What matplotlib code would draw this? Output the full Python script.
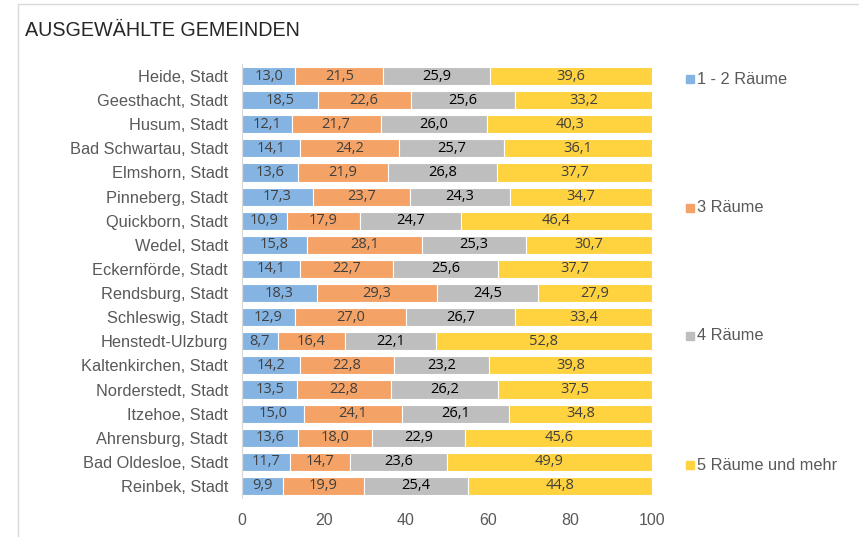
import numpy as np
import matplotlib.pyplot as plt
from matplotlib.patches import Rectangle

gemeinden = ["Heide, Stadt", "Geesthacht, Stadt", "Husum, Stadt", "Bad Schwartau, Stadt",
             "Elmshorn, Stadt", "Pinneberg, Stadt", "Quickborn, Stadt", "Wedel, Stadt",
             "Eckernförde, Stadt", "Rendsburg, Stadt", "Schleswig, Stadt", "Henstedt-Ulzburg",
             "Kaltenkirchen, Stadt", "Norderstedt, Stadt", "Itzehoe, Stadt", "Ahrensburg, Stadt",
             "Bad Oldesloe, Stadt", "Reinbek, Stadt"]
r12 = [13.0, 18.5, 12.1, 14.1, 13.6, 17.3, 10.9, 15.8, 14.1, 18.3, 12.9, 8.7, 14.2, 13.5, 15.0, 13.6, 11.7, 9.9]
r3 = [21.5, 22.6, 21.7, 24.2, 21.9, 23.7, 17.9, 28.1, 22.7, 29.3, 27.0, 16.4, 22.8, 22.8, 24.1, 18.0, 14.7, 19.9]
r4 = [25.9, 25.6, 26.0, 25.7, 26.8, 24.3, 24.7, 25.3, 25.6, 24.5, 26.7, 22.1, 23.2, 26.2, 26.1, 22.9, 23.6, 25.4]
r5 = [39.6, 33.2, 40.3, 36.1, 37.7, 34.7, 46.4, 30.7, 37.7, 27.9, 33.4, 52.8, 39.8, 37.5, 34.8, 45.6, 49.9, 44.8]
serien = ["1 - 2 Räume", "3 Räume", "4 Räume", "5 Räume und mehr"]
farben = ["#85B4E2", "#F4A266", "#BEBEBE", "#FFD23F"]
label_farben = ["#404040", "#404040", "#000000", "#404040"]

fig = plt.figure(figsize=(8.59, 5.37), dpi=100)
fig.patches.append(Rectangle((18 / 859, -0.01), 1.0, 1 - 4 / 537 + 0.01, transform=fig.transFigure,
                             fill=False, edgecolor="#D9D9D9", linewidth=1))
ax = fig.add_axes([242 / 859, 1 - 498 / 537, 410 / 859, 434 / 537])

y = np.arange(len(gemeinden))
left = np.zeros(len(gemeinden))
for werte, farbe, lf in zip([r12, r3, r4, r5], farben, label_farben):
    werte = np.array(werte)
    bars = ax.barh(y, werte, left=left, height=0.75, color=farbe, edgecolor="white", linewidth=0.8)
    ax.bar_label(bars, labels=[f"{v:.1f}".replace(".", ",") for v in werte], label_type="center",
                 color=lf, fontsize=10.5, family="Open Sans")
    left += werte

ax.set_ylim(len(gemeinden) - 0.5, -0.5)
ax.set_xlim(0, 100)
ax.set_yticks(y)
ax.set_yticklabels(gemeinden, fontsize=11.8, color="#595959", family="Liberation Sans")
ax.set_xticks([0, 20, 40, 60, 80, 100])
ax.tick_params(axis="x", colors="#595959", labelsize=11.5, length=0, pad=11)
ax.tick_params(axis="y", length=0, pad=10)
for lab in ax.get_xticklabels():
    lab.set_family("Liberation Sans")
for s in ["top", "right", "bottom"]:
    ax.spines[s].set_visible(False)
ax.spines["left"].set_color("#D9D9D9")

fig.text(25 / 859, 1 - 31 / 537, "AUSGEWÄHLTE GEMEINDEN", fontsize=14.2, color="#262626",
         family="Liberation Sans", va="center", ha="left")

leg_y = [79, 208, 336, 465]
for name, farbe, ly in zip(serien, farben, leg_y):
    fig.patches.append(Rectangle((686 / 859, 1 - (ly + 4) / 537), 8 / 859, 8 / 537,
                                 transform=fig.transFigure, color=farbe))
    fig.text(697 / 859, 1 - ly / 537, name, fontsize=11.8, color="#595959",
             family="Liberation Sans", va="center", ha="left")

fig.savefig("out.png", dpi=100)
